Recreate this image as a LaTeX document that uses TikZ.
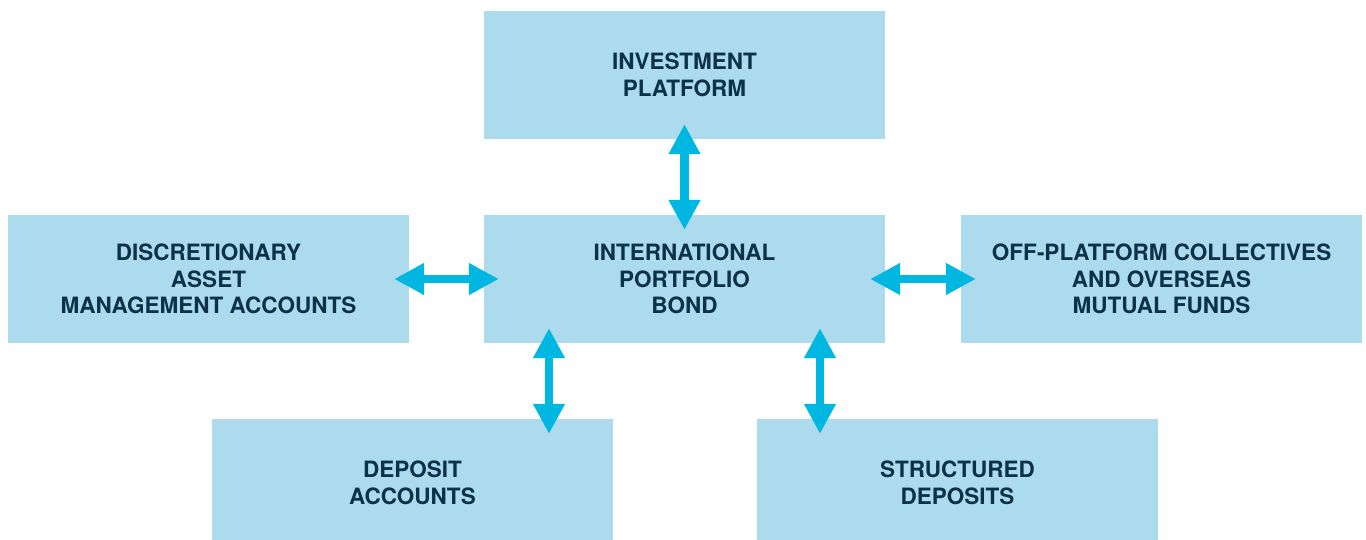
\documentclass[tikz,border=0pt]{standalone}
\usepackage{fontspec}
\setmainfont{TeX Gyre Heros}
\usetikzlibrary{arrows.meta}
\definecolor{boxfill}{HTML}{ABDBEC}
\definecolor{arrowblue}{HTML}{00B7E1}
\definecolor{labelnavy}{HTML}{0D3145}
\tikzset{
  panel/.style={fill=boxfill, draw=none, inner sep=0pt,
    minimum width=401pt, minimum height=128pt, align=center,
    text=labelnavy, font=\fontsize{22.5}{26.5}\selectfont\bfseries},
  biarrow/.style={draw=arrowblue, line width=8.5pt,
    {Triangle[length=30pt,width=30pt]}-{Triangle[length=30pt,width=30pt]},
    shorten <=-15pt, shorten >=-15pt}
}
\begin{document}
\begin{tikzpicture}[x=1pt,y=-1pt]
  \useasboundingbox (0,0) rectangle (1366,539);
  \clip (0,0) rectangle (1366,539);
  % panels
  \node[panel] (platform) at (684.5,75) {INVESTMENT\\PLATFORM};
  \node[panel] (dam) at (208.5,279) {DISCRETIONARY\\ASSET\\MANAGEMENT ACCOUNTS};
  \node[panel] (bond) at (684.5,279) {INTERNATIONAL\\PORTFOLIO\\BOND};
  \node[panel] (funds) at (1161.5,279) {OFF-PLATFORM COLLECTIVES\\AND OVERSEAS\\MUTUAL FUNDS};
  \node[panel] (deposit) at (412.5,483) {DEPOSIT\\ACCOUNTS};
  \node[panel] (structured) at (957.5,483) {STRUCTURED\\DEPOSITS};
  % two-way links
  \draw[biarrow] (platform.south) -- (bond.north);
  \draw[biarrow] (dam.east) -- (bond.west);
  \draw[biarrow] (bond.east) -- (funds.west);
  \draw[biarrow] ([xshift=-135.5pt]bond.south) -- ([xshift=136.5pt]deposit.north);
  \draw[biarrow] ([xshift=135.5pt]bond.south) -- ([xshift=-137.5pt]structured.north);
\end{tikzpicture}
\end{document}
